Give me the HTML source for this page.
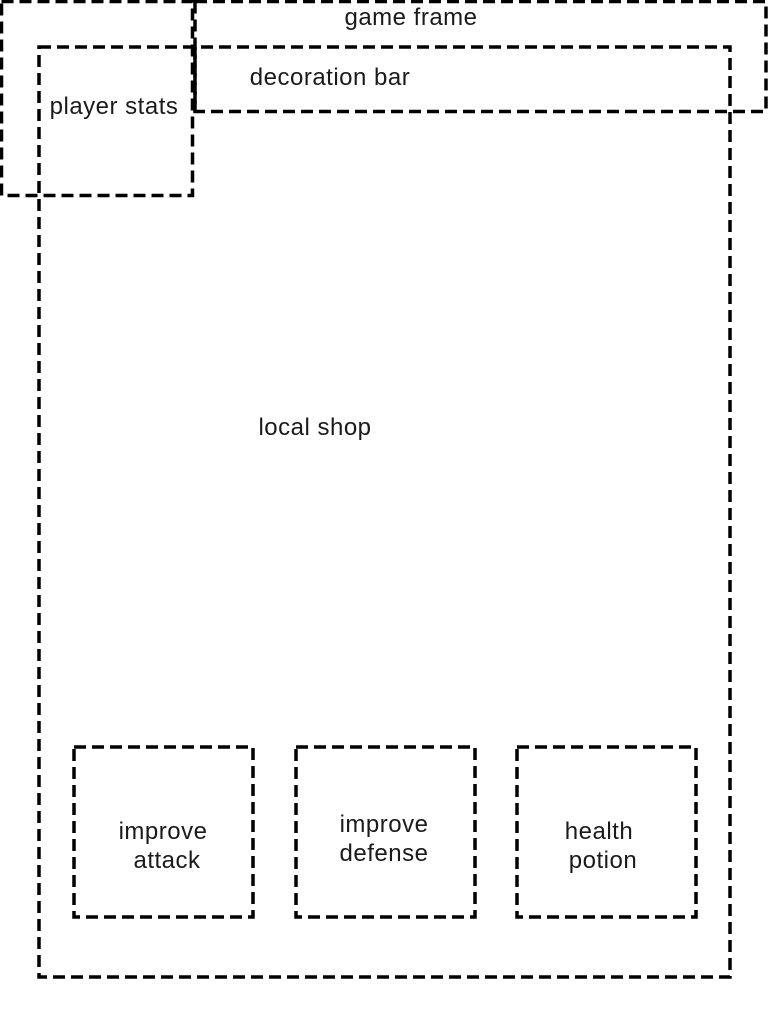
<!DOCTYPE html>
<html><head><meta charset="utf-8"><style>
html,body{margin:0;padding:0;background:#fff;}
svg{display:block;}
text{font-family:"Liberation Sans",Arial,sans-serif;font-size:24px;letter-spacing:0.5px;fill:#1a1a1a;}
</style></head><body>
<svg width="768" height="1024" viewBox="0 0 768 1024">
<g fill="none" stroke="#000" stroke-width="3.5" stroke-dasharray="12 6">
<rect x="1.5" y="1.5" width="191" height="194"/>
<rect x="195" y="1.5" width="571" height="110"/>
<rect x="39" y="47" width="691" height="930"/>
<line x1="195" y1="47" x2="195" y2="111"/>
<rect x="74" y="747" width="179" height="170"/>
<rect x="296" y="747" width="179" height="170"/>
<rect x="517" y="747" width="179" height="170"/>
</g>
<text x="411" y="25" text-anchor="middle">game frame</text>
<text x="330" y="85" text-anchor="middle">decoration bar</text>
<text x="114" y="114" text-anchor="middle">player stats</text>
<text x="315" y="435" text-anchor="middle">local shop</text>
<text x="163" y="839" text-anchor="middle">improve</text>
<text x="167" y="868" text-anchor="middle">attack</text>
<text x="384" y="832" text-anchor="middle">improve</text>
<text x="384" y="861" text-anchor="middle">defense</text>
<text x="599" y="839" text-anchor="middle">health</text>
<text x="603" y="868" text-anchor="middle">potion</text>
</svg>
</body></html>
